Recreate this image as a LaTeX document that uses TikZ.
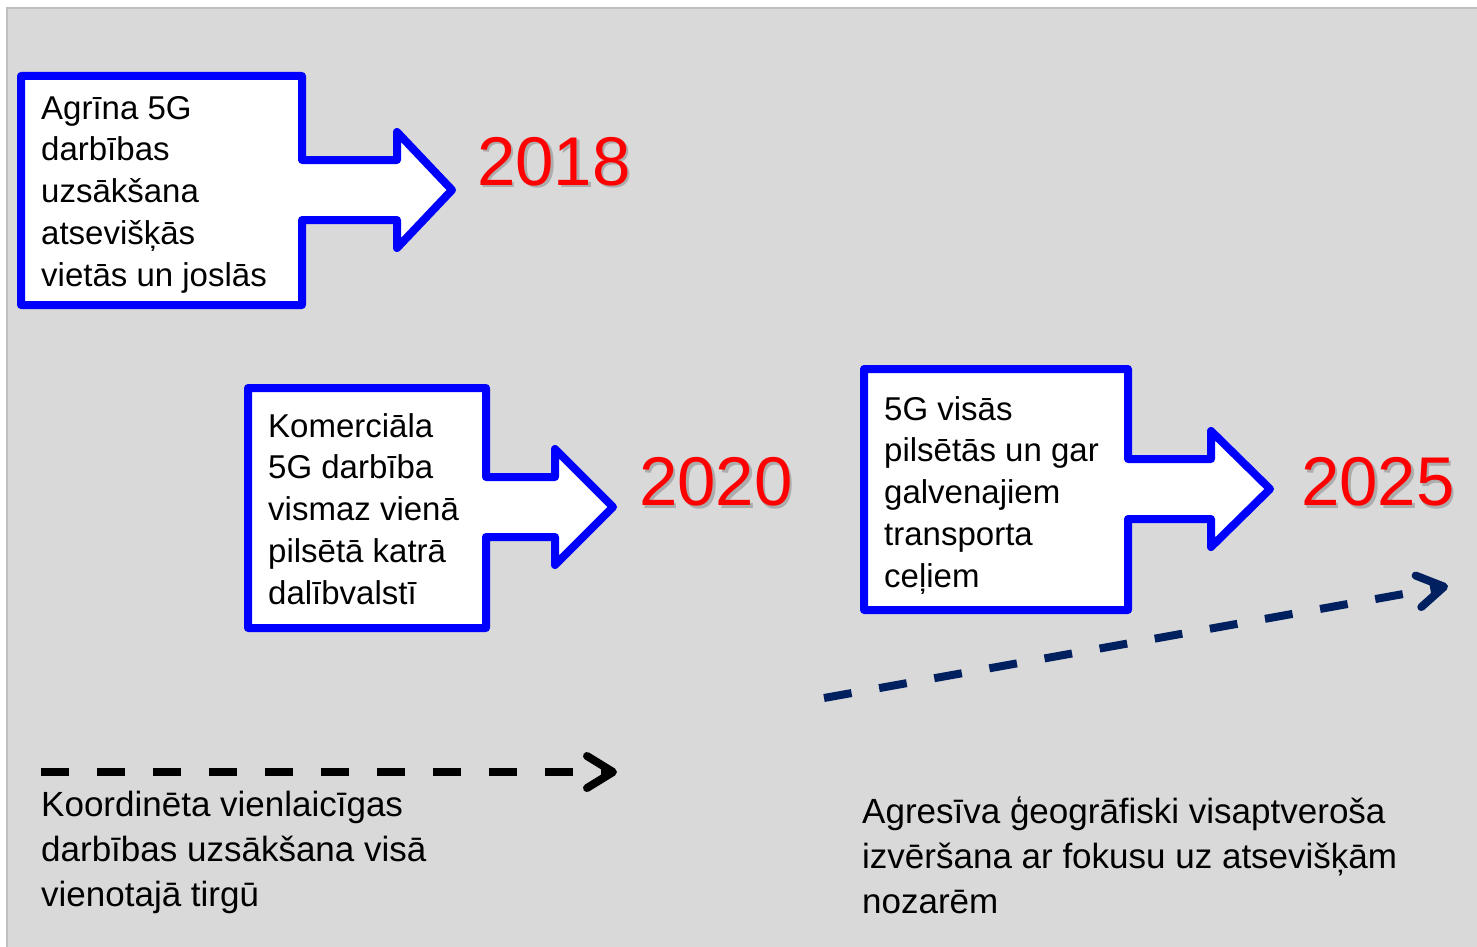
\documentclass[tikz,border=0pt]{standalone}
\usepackage{xcolor}
\usepackage{fontspec}
\setmainfont{Liberation Sans}
\usepackage{tikz}
\usetikzlibrary{positioning, arrows.meta, calc}
\definecolor{panelgray}{RGB}{217,217,217}
\definecolor{framegray}{RGB}{191,191,191}
\definecolor{calloutblue}{RGB}{0,0,255}
\definecolor{yearred}{RGB}{255,0,0}
\definecolor{darknavy}{RGB}{0,32,96}

% left, top, right, bottom, neck, tip x, tip y
\newcommand{\arrowbox}[7]{%
	\draw[callout] (#1,#2) -- (#3,#2) -- (#3,#7-30) -- (#5,#7-30) -- (#5,#7-58) -- (#6,#7)
		-- (#5,#7+58) -- (#5,#7+30) -- (#3,#7+30) -- (#3,#4) -- (#1,#4) -- cycle;
	\coordinate (tip#6) at (#6,#7);
}

\begin{document}
\begin{tikzpicture}[x=1pt, y=-1pt,
	callout/.style={draw=calloutblue, fill=white, line width=8pt, line join=round},
	boxtext/.style={anchor=base west, align=left, inner sep=0pt, font=\fontsize{33}{41.7}\selectfont},
	note/.style={anchor=base west, align=left, inner sep=0pt, font=\fontsize{35}{44.7}\selectfont},
	year/.style={text=yearred, inner sep=0pt, font=\fontsize{69}{69}\selectfont},
	yearshadow/.style={year, text=black!40, opacity=0.7},
	dasharrow/.style={line width=8pt, dash pattern=on 28pt off 28pt, -{Straight Barb[length=26pt,width=32pt,round]}}]
	\useasboundingbox (0,0) rectangle (1477,947);
	\fill[white] (0,0) rectangle (1477,947);
	\draw[framegray, fill=panelgray, line width=2pt] (7,960) -- (7,8) -- (1490,8);
	\fill[panelgray] (8,9) rectangle (1477,947);

	\arrowbox{21}{76}{302}{305}{397}{452}{190}
	\arrowbox{248}{388}{486}{628}{555}{613}{507}
	\arrowbox{864}{369}{1128}{610}{1211}{1270}{489}

	% base anchor sits on the last line
	\node[boxtext] (early) at (41,286) {Agrīna 5G\\darbības\\uzsākšana\\atsevišķās\\vietās un joslās};
	\node[boxtext] (commercial) at (268,604) {Komerciāla\\5G darbība\\vismaz vienā\\pilsētā katrā\\dalībvalstī};
	\node[boxtext] (cities) at (884,587) {5G visās\\pilsētās un gar\\galvenajiem\\transporta\\ceļiem};

	\node[yearshadow] at (556.5,164) {2018};
	\node[year] (y2018) at (554,161.5) {2018};
	\node[yearshadow] at (718.5,484.5) {2020};
	\node[year] (y2020) at (716,482) {2020};
	\node[yearshadow] at (1380.5,484.5) {2025};
	\node[year] (y2025) at (1378,482) {2025};

	\coordinate (launchstart) at (41,772);
	\coordinate (launchend) at (617,772);
	\draw[dasharrow, black] (launchstart) -- (launchend);
	\coordinate (rolloutstart) at (824,698);
	\coordinate (rolloutend) at (1448,586);
	\draw[dasharrow, darknavy] (rolloutstart) -- (rolloutend);

	\node[note] (coordinated) at (41,906) {Koordinēta vienlaicīgas\\darbības uzsākšana visā\\vienotajā tirgū};
	\node[note] (aggressive) at (862,913) {Agresīva ģeogrāfiski visaptveroša\\izvēršana ar fokusu uz atsevišķām\\nozarēm};
\end{tikzpicture}
\end{document}
